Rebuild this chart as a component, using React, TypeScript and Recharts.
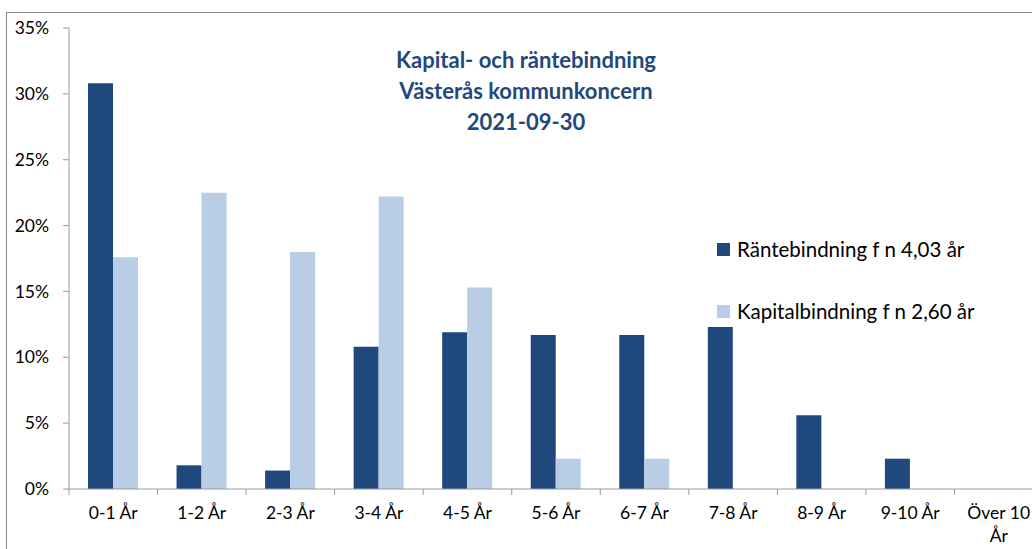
import { BarChart, Bar, XAxis, YAxis, Legend } from 'recharts';

const categories = ['0-1 År', '1-2 År', '2-3 År', '3-4 År', '4-5 År', '5-6 År', '6-7 År', '7-8 År', '8-9 År', '9-10 År', 'Över 10 År'];
const rantebindning = [30.8, 1.8, 1.4, 10.8, 11.9, 11.7, 11.7, 12.3, 5.6, 2.3, 0];
const kapitalbindning = [17.6, 22.5, 18.0, 22.2, 15.3, 2.3, 2.3, 0, 0, 0, 0];
const yTicks = [0, 5, 10, 15, 20, 25, 30, 35];
const titleLines = ['Kapital- och räntebindning', 'Västerås kommunkoncern', '2021-09-30'];
const seriesOrder = ['ranta', 'kapital'];

const data = categories.map((cat, i) => ({
  cat,
  ranta: rantebindning[i],
  kapital: kapitalbindning[i],
}));

const DARK = '#1F497D';
const LIGHT = '#B9CDE5';
const AXIS = '#9A9A9A';

const CHART_W = 1040;
const CHART_H = 556;
const YAXIS_W = 62;
const PLOT_W = 974;
const BAND = PLOT_W / categories.length;

// category tick: boundary tick mark on the left, label centred (long labels wrap)
function CatTick(props: any) {
  const { x, y, payload } = props;
  const label: string = payload.value;
  let lines = [label];
  if (label.length > 8) {
    const k = label.lastIndexOf(' ');
    lines = [label.slice(0, k), label.slice(k + 1)];
  }
  const bx = x - BAND / 2;
  return (
    <g>
      <line x1={bx} x2={bx} y1={y - 18} y2={y - 12} stroke={AXIS} />
      <text x={x} y={y} textAnchor="middle" fontSize={17.5} fill="#000">
        {lines.map((l, i) => (
          <tspan key={i} x={x} dy={i === 0 ? '0.71em' : '1.3em'}>
            {l}
          </tspan>
        ))}
      </text>
    </g>
  );
}

function renderLegend(props: any) {
  const items = [...(props.payload || [])].sort(
    (a: any, b: any) => seriesOrder.indexOf(a.dataKey) - seriesOrder.indexOf(b.dataKey)
  );
  return (
    <div>
      {items.map((entry: any, i: number) => (
        <div
          key={i}
          style={{ display: 'flex', alignItems: 'center', height: 26, marginBottom: 36, fontSize: 20.5, color: '#000', whiteSpace: 'nowrap' }}
        >
          <span style={{ width: 13, height: 13, background: entry.color, marginRight: 7, display: 'inline-block' }} />
          <span>{entry.value}</span>
        </div>
      ))}
    </div>
  );
}

export default function App() {
  return (
    <div style={{ position: 'fixed', inset: 0, overflow: 'hidden', background: '#fff' }}>
      <div
        style={{
          position: 'absolute',
          left: 6,
          top: 12,
          width: 1100,
          height: 600,
          border: '1px solid #898989',
          fontFamily: 'Lato, sans-serif',
        }}
      >
        <BarChart
          width={CHART_W}
          height={CHART_H}
          data={data}
          margin={{ top: 15, right: CHART_W - YAXIS_W - PLOT_W, bottom: 0, left: 0 }}
          barSize={25}
          barGap={0}
        >
          <XAxis
            dataKey="cat"
            height={80}
            interval={0}
            tickSize={6}
            tickMargin={12}
            tickLine={false}
            axisLine={{ stroke: AXIS }}
            tick={<CatTick />}
          />
          <YAxis
            width={YAXIS_W}
            domain={[0, 35]}
            ticks={yTicks}
            interval={0}
            tickSize={6}
            tickMargin={14}
            tickFormatter={(v: number) => `${v}%`}
            axisLine={{ stroke: AXIS }}
            tickLine={{ stroke: AXIS }}
            tick={{ fill: '#000', fontSize: 17.5 }}
          />
          <Legend
            layout="vertical"
            verticalAlign="middle"
            align="center"
            wrapperStyle={{ left: 710, top: 223, width: 'auto' }}
            content={renderLegend}
          />
          <Bar dataKey="ranta" name="Räntebindning f n 4,03 år" fill={DARK} isAnimationActive={false} />
          <Bar dataKey="kapital" name="Kapitalbindning f n 2,60 år" fill={LIGHT} isAnimationActive={false} />
        </BarChart>
        <div
          style={{
            position: 'absolute',
            left: 269,
            top: 31,
            width: 500,
            textAlign: 'center',
            fontSize: 22,
            fontWeight: 700,
            lineHeight: '31px',
            color: DARK,
          }}
        >
          {titleLines.map((t) => (
            <div key={t}>{t}</div>
          ))}
        </div>
      </div>
    </div>
  );
}
